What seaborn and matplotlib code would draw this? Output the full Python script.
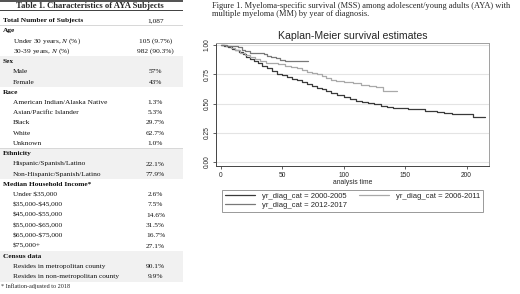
import matplotlib
matplotlib.use("Agg")
import matplotlib.pyplot as plt
import seaborn as sns
import pandas as pd
from matplotlib.patches import Rectangle

# Kaplan-Meier step points (months, survival)
t_0005 = [0, 3, 6, 9, 12, 15, 18, 21, 24, 27, 30, 34, 38, 42, 46, 50, 54, 58, 62, 66, 70,
          74, 78, 82, 86, 90, 95, 100, 105, 110, 115, 120, 125, 130, 135, 140, 146, 152,
          160, 166, 172, 176, 182, 188, 196, 205, 215]
s_0005 = [1.0, 0.995, 0.985, 0.97, 0.955, 0.94, 0.92, 0.90, 0.88, 0.865, 0.845, 0.82, 0.80,
          0.78, 0.755, 0.74, 0.725, 0.71, 0.70, 0.685, 0.665, 0.65, 0.635, 0.62, 0.605, 0.59,
          0.57, 0.555, 0.54, 0.525, 0.515, 0.505, 0.495, 0.48, 0.47, 0.465, 0.46, 0.455,
          0.45, 0.44, 0.435, 0.428, 0.42, 0.414, 0.41, 0.385, 0.385]
t_0611 = [0, 4, 8, 12, 16, 20, 24, 28, 32, 37, 42, 47, 52, 57, 62, 66, 70, 74, 78, 82, 86,
          90, 94, 100, 108, 114, 121, 126, 132, 143]
s_0611 = [1.0, 0.99, 0.975, 0.955, 0.935, 0.915, 0.895, 0.88, 0.865, 0.85, 0.845, 0.835,
          0.825, 0.815, 0.80, 0.785, 0.77, 0.76, 0.75, 0.735, 0.72, 0.705, 0.69, 0.68, 0.672,
          0.66, 0.65, 0.638, 0.606, 0.606]
t_1217 = [0, 5, 10, 14, 17, 20, 24, 30, 35, 38, 41, 45, 48, 52, 71]
s_1217 = [1.0, 0.995, 0.99, 0.98, 0.96, 0.945, 0.935, 0.93, 0.925, 0.91, 0.895, 0.885,
          0.875, 0.865, 0.865]
groups = ["yr_diag_cat = 2000-2005", "yr_diag_cat = 2006-2011", "yr_diag_cat = 2012-2017"]

# Table 1 content
table_labels = ["Total Number of Subjects", "Age", "Under 30 years, $N$ (%)",
                "30-39 years, $N$ (%)", "Sex", "Male", "Female", "Race",
                "American Indian/Alaska Native", "Asian/Pacific Islander", "Black", "White",
                "Unknown", "Ethnicity", "Hispanic/Spanish/Latino",
                "Non-Hispanic/Spanish/Latino", "Median Household Income*", r"Under \$35,000",
                r"\$35,000-\$45,000", r"\$45,000-\$55,000", r"\$55,000-\$65,000",
                r"\$65,000-\$75,000", r"\$75,000+", "Census data",
                "Resides in metropolitan county", "Resides in non-metropolitan county"]
table_values = ["1,087", "", "105 (9.7%)", "982 (90.3%)", "", "57%", "43%", "", "1.3%",
                "5.3%", "29.7%", "62.7%", "1.0%", "", "22.1%", "77.9%", "", "2.6%", "7.5%",
                "14.6%", "31.5%", "16.7%", "27.1%", "", "90.1%", "9.9%"]
table_bold = [True, True, False, False, True, False, False, True, False, False, False, False,
              False, True, False, False, True, False, False, False, False, False, False, True,
              False, False]
shaded_rows = [4, 5, 6, 13, 14, 15, 23, 24, 25]

sns.set_style("white")
plt.rcParams["mathtext.fontset"] = "custom"
plt.rcParams["mathtext.it"] = "Liberation Serif:italic"
plt.rcParams["mathtext.rm"] = "Liberation Serif"

W, H = 520, 294
fig = plt.figure(figsize=(5.2, 2.94), dpi=100)


def fx(px):
    return px / W


def fy(py):
    return 1 - py / H


serif = "Liberation Serif"
sans = "Liberation Sans"

# ---- table ----
fig.patches.append(Rectangle((0, fy(1.8)), fx(183), 1.8 / H, transform=fig.transFigure,
                             color="#555555", lw=0))
fig.text(fx(90), fy(5.8), "Table 1. Characteristics of AYA Subjects", family=serif,
         weight="bold", fontsize=6.2, ha="center", va="center")
fig.patches.append(Rectangle((0, fy(11)), fx(183), 0.8 / H, transform=fig.transFigure,
                             color="#444444", lw=0))
row_h = 10.25
for i, (lab, val, bold) in enumerate(zip(table_labels, table_values, table_bold)):
    y = 20.5 + i * row_h
    if i in shaded_rows:
        fig.patches.append(Rectangle((0, fy(y + row_h / 2)), fx(183), row_h / H,
                                     transform=fig.transFigure, color="#f1f1f1", lw=0))
    if bold and i > 0:
        fig.patches.append(Rectangle((0, fy(y - row_h / 2)), fx(183), 0.6 / H,
                                     transform=fig.transFigure, color="#d8d8d8", lw=0))
    fig.text(fx(3 if bold else 13), fy(y), lab, family=serif,
             weight="bold" if bold else "normal", fontsize=5.3, ha="left", va="center",
             color="#111111")
    if val:
        fig.text(fx(155.5), fy(y), val, family=serif, fontsize=5.3,
                 ha="center", va="center", color="#111111")
fig.text(fx(1), fy(286), "* Inflation-adjusted to 2018", family=serif, fontsize=4.4,
         ha="left", va="center")

# ---- caption ----
fig.text(fx(212), fy(1.5),
         "Figure 1. Myeloma-specific survival (MSS) among adolescent/young adults (AYA) with\n"
         "multiple myeloma (MM) by year of diagnosis.",
         family=serif, fontsize=6.05, ha="left", va="top", linespacing=1.15)

# ---- Kaplan-Meier plot ----
km = pd.concat([
    pd.DataFrame({"time": t_0005, "survival": s_0005, "group": groups[0]}),
    pd.DataFrame({"time": t_0611, "survival": s_0611, "group": groups[1]}),
    pd.DataFrame({"time": t_1217, "survival": s_1217, "group": groups[2]}),
])
palette = {groups[0]: "#3a3a3a", groups[1]: "#a9a9a9", groups[2]: "#787878"}

ax = fig.add_axes([fx(216), fy(166), fx(489 - 216), (166 - 42.7) / H])
for yv in [0, 0.25, 0.5, 0.75, 1.0]:
    ax.axhline(yv, color="#e4e4e4", lw=0.8, zorder=0)
sns.lineplot(data=km, x="time", y="survival", hue="group", palette=palette,
             drawstyle="steps-post", estimator=None, sort=False, lw=0.9, ax=ax)
ax.set_xlim(-3.8, 218.2)
ax.set_ylim(-0.034, 1.02)
ax.set_xticks([0, 50, 100, 150, 200])
ax.set_yticks([0, 0.25, 0.5, 0.75, 1.0])
ax.set_yticklabels(["0.00", "0.25", "0.50", "0.75", "1.00"], rotation=90, va="center")
ax.tick_params(axis="both", labelsize=4.8, length=2.5, width=0.6, color="#444444",
               pad=1.5, direction="out", left=True, bottom=True)
for lab in ax.get_xticklabels() + ax.get_yticklabels():
    lab.set_family(sans)
ax.set_xlabel("analysis time", family=sans, fontsize=4.9, labelpad=0)
ax.set_ylabel("")
ax.set_title("Kaplan-Meier survival estimates", family=sans, fontsize=7.6, pad=2.5)
for side in ["left", "bottom"]:
    ax.spines[side].set_color("#444444")
    ax.spines[side].set_linewidth(0.7)
for side in ["top", "right"]:
    ax.spines[side].set_color("#a0a0a0")
    ax.spines[side].set_linewidth(0.7)

handles, labels = ax.get_legend_handles_labels()
order = [0, 2, 1]
leg = ax.legend([handles[i] for i in order], [labels[i] for i in order], ncol=2,
                loc="upper left", bbox_to_anchor=(fx(222), fy(190)),
                bbox_transform=fig.transFigure, borderaxespad=0, fancybox=False,
                frameon=True, edgecolor="#808080", prop={"family": sans, "size": 5.5},
                handlelength=4.0, handletextpad=0.9, columnspacing=1.5,
                borderpad=0.35, labelspacing=0.2)
leg.get_frame().set_linewidth(0.7)

fig.savefig("out.png", dpi=100)
